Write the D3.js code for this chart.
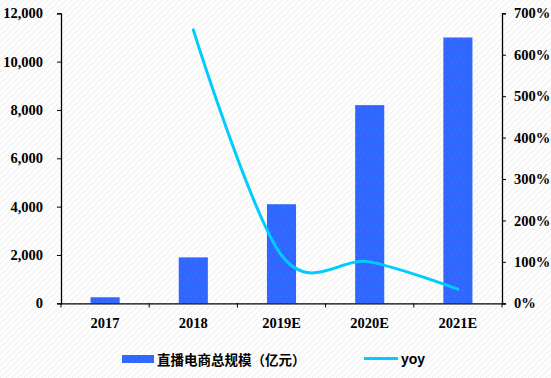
<!DOCTYPE html>
<html><head><meta charset="utf-8">
<script src="https://cdn.jsdelivr.net/npm/d3@7"></script>
<style>body{margin:0;background:#fff}svg{display:block}</style>
</head><body>
<svg id="c" width="551" height="378"></svg>
<script>
const categories = ["2017","2018","2019E","2020E","2021E"];
const marketSize = [250, 1900, 4100, 8200, 11000];
const yoyCats = ["2018","2019E","2020E","2021E"];
const yoyValues = [6.60, 1.16, 1.00, 0.34];
const leftTicks = [0,2000,4000,6000,8000,10000,12000];
const rightTicks = [0,1,2,3,4,5,6,7];
const seriesNames = ["直播电商总规模（亿元）","yoy"];

const svg = d3.select("#c");
const defs = svg.append("defs");
const bg = defs.append("pattern").attr("id","bg").attr("width",6).attr("height",6)
  .attr("patternUnits","userSpaceOnUse");
bg.append("rect").attr("width",6).attr("height",6).attr("fill","#fdfdfd");
bg.append("path").attr("d","M0,6L6,0M-1,1L1,-1M5,7L7,5").attr("stroke","#eeeeee").attr("stroke-width",1);
const dots = defs.append("pattern").attr("id","dots").attr("width",6).attr("height",12)
  .attr("patternUnits","userSpaceOnUse");
dots.append("rect").attr("width",6).attr("height",12).attr("fill","#3366ff");
dots.append("rect").attr("x",1).attr("y",2).attr("width",1).attr("height",1).attr("fill","#1a8cff");
dots.append("rect").attr("x",4).attr("y",8).attr("width",1).attr("height",1).attr("fill","#1a8cff");

svg.append("rect").attr("width",551).attr("height",378).attr("fill","url(#bg)");

const x = d3.scaleBand().domain(categories).range([61,502]).paddingInner(0.67).paddingOuter(0.335);
const yL = d3.scaleLinear().domain([0,12000]).range([303.3,13.3]);
const yR = d3.scaleLinear().domain([0,7]).range([303.3,13.3]);

const tickFont = "'Liberation Serif','Times New Roman',serif";

// bars
svg.append("g").selectAll("rect").data(categories).join("rect")
  .attr("x",d=>x(d)).attr("width",x.bandwidth())
  .attr("y",(d,i)=>yL(marketSize[i])).attr("height",(d,i)=>yL(0)-yL(marketSize[i]))
  .attr("fill","url(#dots)");

// axes
const axL = svg.append("g").attr("transform","translate(61,0)")
  .call(d3.axisLeft(yL).tickValues(leftTicks).tickFormat(d3.format(",")).tickSize(4).tickPadding(14));
const axR = svg.append("g").attr("transform","translate(502,0)")
  .call(d3.axisRight(yR).tickValues(rightTicks).tickFormat(d=>d*100+"%").tickSize(4).tickPadding(8));
const axB = svg.append("g").attr("transform","translate(0,303.3)")
  .call(d3.axisBottom(x).tickSize(0).tickPadding(14));
// category boundary ticks
const bounds = d3.range(categories.length+1).map(i=>61 + i*x.step());
svg.append("g").selectAll("line").data(bounds).join("line")
  .attr("x1",d=>d).attr("x2",d=>d).attr("y1",303.3).attr("y2",307.5)
  .attr("stroke","#000").attr("stroke-width",1);
axB.select(".domain").attr("d","M61,0.5H506");
[axL,axR,axB].forEach(a=>{
  a.selectAll(".domain").attr("stroke","#000").attr("stroke-width",1.3);
  a.selectAll("line").attr("stroke","#000");
  a.selectAll("text").attr("font-family",tickFont).attr("font-weight","bold")
   .attr("font-size","14.5px").attr("fill","#000");
});

// yoy line
const line = d3.line().x(d=>x(d[0])+x.bandwidth()/2).y(d=>yR(d[1])).curve(d3.curveCardinal.tension(0));
svg.append("path").datum(yoyCats.map((c,i)=>[c,yoyValues[i]]))
  .attr("d",line).attr("fill","none").attr("stroke","#00ccff").attr("stroke-width",3)
  .attr("stroke-linecap","round");

// legend
const lg = svg.append("g");
lg.append("rect").attr("x",122).attr("y",355).attr("width",32).attr("height",8).attr("fill","url(#dots)");
lg.append("text").attr("x",157).attr("y",364.5).text(seriesNames[0])
  .attr("font-family","'Noto Sans CJK SC',sans-serif").attr("font-weight","bold").attr("font-size","13.5px");
lg.append("line").attr("x1",364).attr("x2",398).attr("y1",358.5).attr("y2",358.5)
  .attr("stroke","#00ccff").attr("stroke-width",3);
lg.append("text").attr("x",401).attr("y",364).text(seriesNames[1])
  .attr("font-family","'Liberation Sans',Arial,sans-serif").attr("font-weight","bold").attr("font-size","14px");
</script>
</body></html>
